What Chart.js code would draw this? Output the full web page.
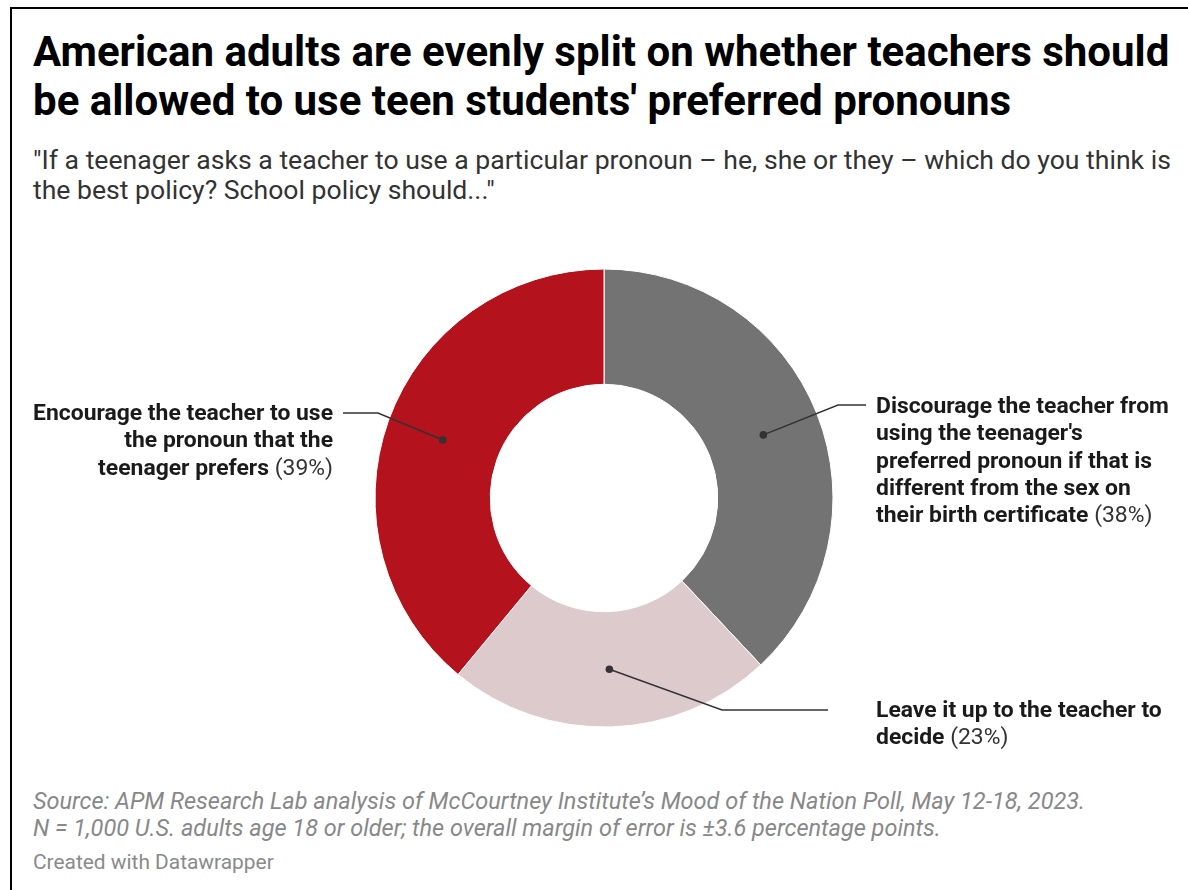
<!DOCTYPE html>
<html>
<head>
<meta charset="utf-8">
<script src="https://cdn.jsdelivr.net/npm/chart.js@4.4.0/dist/chart.umd.min.js"></script>
<style>
  html, body { margin: 0; padding: 0; background: #fff; overflow: hidden; }
  body { width: 1188px; height: 890px; position: relative; font-family: Roboto, "Noto Sans", sans-serif; }
  .frame { position: absolute; left: 10px; top: 7px; width: 1300px; height: 1000px; border: 2px solid #000; }
  .title { position: absolute; left: 33px; top: 27px; font-size: 42px; font-weight: 700; line-height: 49px; color: #000; white-space: nowrap; }
  .subtitle { position: absolute; left: 33px; top: 145px; font-size: 26.6px; line-height: 30px; color: #333; white-space: nowrap; }
  .chart-box { position: absolute; left: 10px; top: 268px; width: 1188px; height: 460px; }
  .lbl { position: absolute; font-size: 22.9px; line-height: 27.3px; color: #1a1a1a; white-space: nowrap; }
  .lbl b { font-weight: 700; }
  .lbl span { font-weight: 400; color: #333; }
  .notes { position: absolute; left: 33px; top: 788px; font-size: 23.5px; line-height: 27px; color: #888; font-style: italic; white-space: nowrap; }
  .credit { position: absolute; left: 33px; top: 850px; font-size: 20.9px; line-height: 24px; color: #8a8a8a; white-space: nowrap; }
</style>
</head>
<body>
<div class="frame"></div>
<div class="title">American adults are evenly split on whether teachers should<br>be allowed to use teen students' preferred pronouns</div>
<div class="subtitle">"If a teenager asks a teacher to use a particular pronoun – he, she or they – which do you think is<br>the best policy? School policy should..."</div>
<div class="chart-box"><canvas id="chart"></canvas></div>
<div id="labels"></div>
<div class="notes">Source: APM Research Lab analysis of McCourtney Institute’s Mood of the Nation Poll, May 12-18, 2023.<br>N = 1,000 U.S. adults age 18 or older; the overall margin of error is ±3.6 percentage points.</div>
<div class="credit">Created with Datawrapper</div>

<script>
// answers, clockwise from 12 o'clock
const categories = [
  'Discourage the teacher from using the teenager\'s preferred pronoun if that is different from the sex on their birth certificate',
  'Leave it up to the teacher to decide',
  'Encourage the teacher to use the pronoun that the teenager prefers'
];
const labelLines = [
  ['Discourage the teacher from', 'using the teenager\'s', 'preferred pronoun if that is', 'different from the sex on', 'their birth certificate'],
  ['Leave it up to the teacher to', 'decide'],
  ['Encourage the teacher to use', 'the pronoun that the', 'teenager prefers']
];
const shares = [38, 23, 39];
const sliceColors = ['#737373', '#dccacd', '#b4121c'];

// where each label sits on the page and how its leader line bends
const labelSpots = [
  { x: 876, y: 392, align: 'left', elbow: [838, 405], end: [866, 405] },
  { x: 876, y: 696, align: 'left', elbow: [722, 710], end: [828, 710] },
  { x: 333, y: 399, align: 'right', elbow: [378, 413], end: [343, 413] }
];

const box = document.querySelector('.chart-box');
const offX = box.offsetLeft, offY = box.offsetTop;

const labelsEl = document.getElementById('labels');
labelLines.forEach((lines, i) => {
  const s = labelSpots[i];
  const d = document.createElement('div');
  d.className = 'lbl';
  d.style.top = s.y + 'px';
  d.style.textAlign = s.align;
  if (s.align === 'left') d.style.left = s.x + 'px';
  else d.style.right = (1188 - s.x) + 'px';
  d.innerHTML = lines.map((l, j) => j === lines.length - 1
    ? '<b>' + l + '</b> <span>(' + shares[i] + '%)</span>'
    : '<b>' + l + '</b>').join('<br>');
  labelsEl.appendChild(d);
});

const leaderLines = {
  id: 'leaderLines',
  afterDatasetsDraw(chart) {
    const ctx = chart.ctx;
    const arcs = chart.getDatasetMeta(0).data;
    ctx.save();
    ctx.strokeStyle = '#333';
    ctx.fillStyle = '#333';
    ctx.lineWidth = 1.5;
    arcs.forEach((arc, i) => {
      const p = arc.tooltipPosition();
      const s = labelSpots[i];
      ctx.beginPath();
      ctx.moveTo(p.x, p.y);
      ctx.lineTo(s.elbow[0] - offX, s.elbow[1] - offY);
      ctx.lineTo(s.end[0] - offX, s.end[1] - offY);
      ctx.stroke();
      ctx.beginPath();
      ctx.arc(p.x, p.y, 3.8, 0, Math.PI * 2);
      ctx.fill();
    });
    ctx.restore();
  }
};

new Chart(document.getElementById('chart'), {
  type: 'doughnut',
  data: {
    labels: categories,
    datasets: [{
      data: shares,
      backgroundColor: sliceColors,
      borderColor: '#ffffff',
      borderWidth: 1,
      hoverOffset: 0
    }]
  },
  options: {
    responsive: true,
    maintainAspectRatio: false,
    animation: false,
    radius: 229,
    cutout: 114,
    layout: { padding: 0 },
    events: [],
    plugins: {
      legend: { display: false },
      tooltip: { enabled: false }
    }
  },
  plugins: [leaderLines]
});
</script>
</body>
</html>
